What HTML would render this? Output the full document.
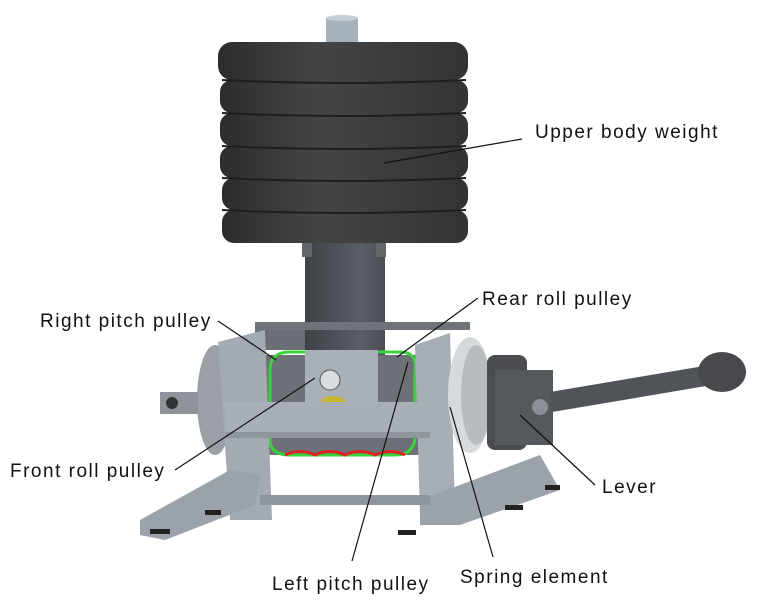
<!DOCTYPE html>
<html><head><meta charset="utf-8"><style>
html,body{margin:0;padding:0;background:#fff;}
svg{display:block}
text{font-family:"Liberation Sans",sans-serif;font-size:19px;letter-spacing:1.5px;fill:#111;}
</style></head><body>
<svg width="783" height="607" viewBox="0 0 783 607" xmlns="http://www.w3.org/2000/svg">
<defs>
<linearGradient id="disc" x1="0" x2="1" y1="0" y2="0">
<stop offset="0" stop-color="#2c2c2c"/><stop offset="0.4" stop-color="#454545"/><stop offset="1" stop-color="#333"/>
</linearGradient>
<linearGradient id="col" x1="0" x2="1"><stop offset="0" stop-color="#3e4247"/><stop offset="0.7" stop-color="#5a5f66"/><stop offset="1" stop-color="#4a4e54"/></linearGradient>
</defs>
<rect x="326" y="18" width="32" height="28" fill="#a6b2bb"/>
<ellipse cx="342" cy="18" rx="16" ry="3" fill="#c5ced4"/>
<g fill="url(#disc)">
<rect x="218" y="42" width="250" height="38" rx="14"/>
<rect x="220" y="80" width="248" height="33" rx="12"/>
<rect x="220" y="113" width="248" height="33" rx="12"/>
<rect x="220" y="146" width="248" height="32" rx="12"/>
<rect x="222" y="178" width="246" height="32" rx="12"/>
<rect x="222" y="210" width="246" height="33" rx="12"/>
</g>
<g stroke="#1e1e1e" stroke-width="2" fill="none">
<path d="M222 80 Q343 86 466 80"/><path d="M222 113 Q343 119 466 113"/><path d="M222 146 Q343 152 466 146"/><path d="M222 178 Q343 184 466 178"/><path d="M222 210 Q343 216 466 210"/>
</g>
<rect x="305" y="243" width="80" height="125" fill="url(#col)"/>
<rect x="302" y="243" width="10" height="14" fill="#666"/><rect x="376" y="243" width="10" height="14" fill="#666"/>
<rect x="255" y="322" width="215" height="8" fill="#6f747a"/>
<rect x="255" y="330" width="50" height="20" fill="#6a6f75"/>
<ellipse cx="215" cy="400" rx="18" ry="55" fill="#9aa0a6"/>
<rect x="160" y="392" width="38" height="22" fill="#8e949a"/>
<circle cx="172" cy="403" r="6" fill="#333"/>
<rect x="265" y="355" width="155" height="100" fill="#6d7076"/>
<path d="M270 370 Q270 352 290 352 L400 352 Q418 352 415 372 L415 440 Q412 455 395 455 L290 455 Q270 455 270 440 Z" fill="none" stroke="#39d439" stroke-width="3"/>
<path d="M285 455 Q300 448 315 455 Q330 448 345 455 Q360 448 375 455 Q390 448 405 455" fill="none" stroke="#d22" stroke-width="3"/>
<rect x="305" y="350" width="73" height="60" fill="#a9b0b7"/>
<circle cx="330" cy="380" r="10" fill="#d8dde0" stroke="#555"/>
<ellipse cx="333" cy="402" rx="12" ry="6" fill="#c9b530"/>
<polygon points="218,342 265,330 272,520 230,520" fill="#a3aab1"/>
<polygon points="415,345 450,333 455,510 420,515" fill="#a6adb4"/>
<rect x="225" y="402" width="205" height="33" fill="#a8afb6"/>
<rect x="225" y="432" width="205" height="6" fill="#8f969d"/>
<ellipse cx="470" cy="395" rx="22" ry="58" fill="#d7dadd"/>
<ellipse cx="476" cy="395" rx="15" ry="50" fill="#b7bcc1"/>
<rect x="487" y="355" width="40" height="95" rx="8" fill="#4a4c50"/>
<rect x="495" y="370" width="58" height="75" fill="#55585d"/>
<circle cx="540" cy="407" r="8" fill="#8b9096"/>
<polygon points="550,392 710,365 712,385 552,412" fill="#505357"/>
<ellipse cx="722" cy="372" rx="24" ry="20" fill="#47494d"/>
<polygon points="140,520 230,470 260,475 255,505 165,540 140,535" fill="#9ba2a9"/>
<polygon points="420,500 540,455 560,490 460,525 420,525" fill="#9ba2a9"/>
<rect x="260" y="495" width="170" height="10" fill="#8e959c"/>
<g fill="#222"><rect x="150" y="529" width="20" height="5"/><rect x="398" y="530" width="18" height="5"/><rect x="505" y="505" width="18" height="5"/><rect x="545" y="485" width="15" height="5"/><rect x="205" y="510" width="16" height="5"/></g>
<g stroke="#111" stroke-width="1.2">
<line x1="522" y1="139" x2="384" y2="163"/>
<line x1="478" y1="298" x2="397" y2="357"/>
<line x1="218" y1="321" x2="276" y2="360"/>
<line x1="175" y1="470" x2="315" y2="378"/>
<line x1="595" y1="485" x2="520" y2="415"/>
<line x1="352" y1="561" x2="408" y2="362"/>
<line x1="493" y1="557" x2="450" y2="407"/>
</g>
<text x="535" y="138">Upper body weight</text>
<text x="482" y="305">Rear roll pulley</text>
<text x="40" y="327">Right pitch pulley</text>
<text x="10" y="477">Front roll pulley</text>
<text x="602" y="493">Lever</text>
<text x="272" y="590">Left pitch pulley</text>
<text x="460" y="583">Spring element</text>
</svg>
</body></html>
